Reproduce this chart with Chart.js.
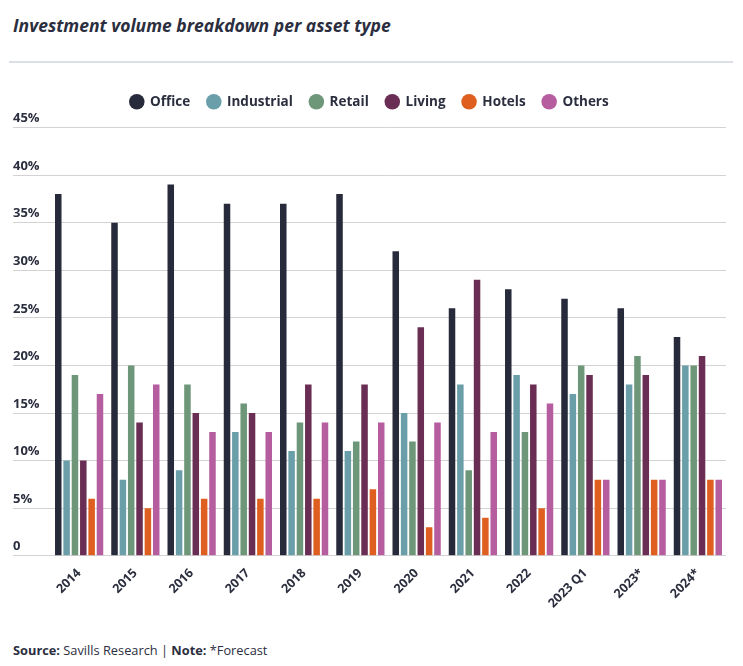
<!DOCTYPE html>
<html>
<head>
<meta charset="utf-8">
<script src="https://cdn.jsdelivr.net/npm/chart.js@4"></script>
<style>
  body { margin: 0; background: #fff; width: 743px; height: 666px; overflow: hidden; position: relative; font-family: "Open Sans", sans-serif; color: #2b2e3e; }
  #titulo { position: absolute; left: 13px; top: 13px; font-size: 17.5px; font-weight: 700; font-style: italic; }
  #linha { position: absolute; left: 9px; top: 61px; width: 724px; height: 2px; background: #dcdfe3; }
  #grafico { position: absolute; left: 0; top: 66px; width: 743px; height: 574px; }
  #fonte { position: absolute; left: 13px; top: 641px; font-size: 12.8px; }
</style>
</head>
<body>
<div id="titulo">Investment volume breakdown per asset type</div>
<div id="linha"></div>
<div id="grafico"><canvas id="cv"></canvas></div>
<div id="fonte"><b>Source:</b> Savills Research | <b>Note:</b> *Forecast</div>
<script>
// Categorias e valores (%)
const anos = ["2014", "2015", "2016", "2017", "2018", "2019", "2020", "2021", "2022", "2023 Q1", "2023*", "2024*"];
const office     = [38, 35, 39, 37, 37, 38, 32, 26, 28, 27, 26, 23];
const industrial = [10,  8,  9, 13, 11, 11, 15, 18, 19, 17, 18, 20];
const retail     = [19, 20, 18, 16, 14, 12, 12,  9, 13, 20, 21, 20];
const living     = [10, 14, 15, 15, 18, 18, 24, 29, 18, 19, 19, 21];
const hotels     = [ 6,  5,  6,  6,  6,  7,  3,  4,  5,  8,  8,  8];
const others     = [17, 18, 13, 13, 14, 14, 14, 13, 16,  8,  8,  8];
const ticksY = [0, 5, 10, 15, 20, 25, 30, 35, 40, 45];

const corTexto = "#2b2e3e";

function serie(nome, dados, cor) {
    return { label: nome, data: dados, backgroundColor: cor, borderWidth: 0,
             barPercentage: 0.78, categoryPercentage: 0.89 };
}

// Espaço extra abaixo da legenda
const espacoLegenda = {
    id: "espacoLegenda",
    beforeInit(chart) {
        const fitOriginal = chart.legend.fit;
        chart.legend.fit = function () {
            fitOriginal.bind(chart.legend)();
            this.height += 9;
        };
    }
};

new Chart(document.getElementById("cv"), {
    type: "bar",
    data: {
        labels: anos,
        datasets: [
            serie("Office", office, "#262a3b"),
            serie("Industrial", industrial, "#6a9ea9"),
            serie("Retail", retail, "#6e9678"),
            serie("Living", living, "#6a2e54"),
            serie("Hotels", hotels, "#de5f1f"),
            serie("Others", others, "#b55d9f")
        ]
    },
    plugins: [espacoLegenda],
    options: {
        responsive: true,
        maintainAspectRatio: false,
        animation: false,
        layout: { padding: { left: 13, right: 17, top: 12, bottom: 27 } },
        plugins: {
            legend: {
                position: "top",
                labels: {
                    usePointStyle: true, pointStyle: "circle", boxHeight: 11, boxWidth: 13,
                    padding: 17, color: corTexto,
                    font: { family: "Open Sans", size: 13.5, weight: "bold" }
                }
            },
            tooltip: { enabled: false }
        },
        scales: {
            x: {
                grid: { display: false },
                border: { display: false },
                ticks: {
                    color: corTexto, autoSkip: false, maxRotation: 45, minRotation: 45, padding: 2,
                    font: { family: "Open Sans", size: 12.5, weight: "bold" }
                }
            },
            y: {
                min: 0, max: 45,
                afterFit: (s) => { s.width = 38; },
                afterBuildTicks: (s) => { s.ticks = ticksY.map(v => ({ value: v })); },
                grid: { color: "#d3d3d3", lineWidth: 1, drawTicks: true, tickLength: 38, tickColor: "#d3d3d3" },
                border: { display: false },
                ticks: {
                    color: corTexto, crossAlign: "far", padding: 0, labelOffset: -9,
                    font: { family: "Open Sans", size: 13, weight: "bold" },
                    callback: (v) => v === 0 ? "0" : v + "%"
                }
            }
        }
    }
});
</script>
</body>
</html>
